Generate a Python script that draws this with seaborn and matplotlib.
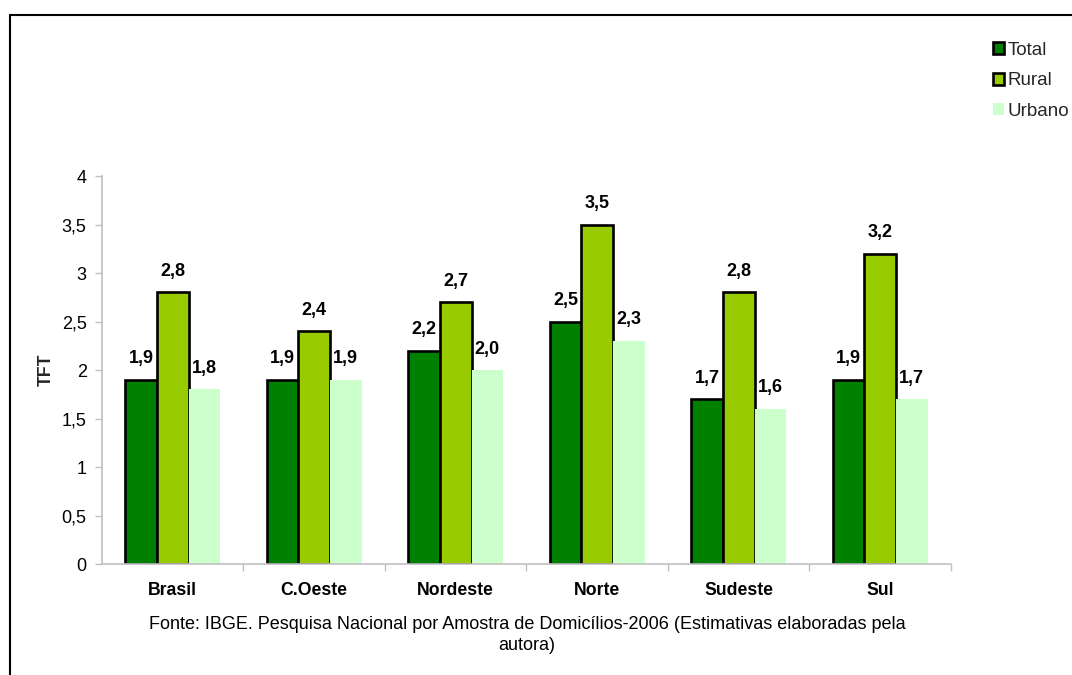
import matplotlib
matplotlib.use("Agg")
import matplotlib.pyplot as plt
from matplotlib.lines import Line2D
from matplotlib.patches import Patch
import seaborn as sns
import pandas as pd

regioes = ["Brasil", "C.Oeste", "Nordeste", "Norte", "Sudeste", "Sul"]
total = [1.9, 1.9, 2.2, 2.5, 1.7, 1.9]
rural = [2.8, 2.4, 2.7, 3.5, 2.8, 3.2]
urbano = [1.8, 1.9, 2.0, 2.3, 1.6, 1.7]
series = ["Total", "Rural", "Urbano"]
yticks = [0, 0.5, 1, 1.5, 2, 2.5, 3, 3.5, 4]
fonte = ("Fonte: IBGE. Pesquisa Nacional por Amostra de Domicílios-2006 (Estimativas elaboradas pela\n"
         "autora)")

cores = {"Total": "#008000", "Rural": "#99CC00", "Urbano": "#CCFFCC"}
bordas = {"Total": "black", "Rural": "black", "Urbano": "none"}

df = pd.DataFrame({
    "Região": regioes * 3,
    "Série": sum([[s] * len(regioes) for s in series], []),
    "TFT": total + rural + urbano,
})

sns.set_theme(style="white")
plt.rcParams["font.family"] = ["Liberation Sans", "DejaVu Sans"]

fig = plt.figure(figsize=(10.72, 6.75), dpi=100)
ax = fig.add_axes([0.0951, 0.1644, 0.792, 0.5748])

sns.barplot(data=df, x="Região", y="TFT", hue="Série", hue_order=series,
            palette=cores, width=0.67, saturation=1, ax=ax, legend=False,
            errorbar=None)

for cont, s in zip(ax.containers, series):
    for bar in cont:
        bar.set_edgecolor(bordas[s])
        bar.set_linewidth(1.9 if bordas[s] != "none" else 0)
    ax.bar_label(cont, labels=[f"{v:.1f}".replace(".", ",") for v in cont.datavalues],
                 padding=9, fontsize=13, fontweight="bold", color="black")

ax.set_ylim(0, 4)
ax.set_xlim(-0.5, len(regioes) - 0.5)
ax.set_yticks(yticks)
ax.set_yticklabels([f"{t:g}".replace(".", ",") for t in yticks], fontsize=13, color="black")
ax.set_xticks(range(len(regioes)))
ax.set_xticklabels(regioes, fontsize=12.7, fontweight="bold", color="black")
ax.set_xticks([i + 0.5 for i in range(len(regioes))], minor=True)
ax.tick_params(axis="x", which="major", length=0, pad=13)
ax.tick_params(axis="x", which="minor", length=5, width=1, color="#C0C0C0", direction="out", bottom=True)
ax.tick_params(axis="y", length=5, width=1, color="#C0C0C0", direction="out", left=True, pad=6)
ax.set_xlabel("")
ax.set_ylabel("TFT", fontsize=12.7, fontweight="bold", labelpad=5)

for side in ["top", "right"]:
    ax.spines[side].set_visible(False)
for side in ["left", "bottom"]:
    ax.spines[side].set_color("#C0C0C0")
    ax.spines[side].set_linewidth(1.2)

handles = [Patch(facecolor=cores[s], edgecolor=bordas[s], linewidth=1.9 if bordas[s] != "none" else 0,
                 label=s) for s in series]
fig.legend(handles=handles, loc="upper left", bbox_to_anchor=(0.9174, 0.952),
           frameon=False, fontsize=13.5, handlelength=0.6, handleheight=0.6,
           handletextpad=0.2, labelspacing=0.72, borderpad=0)

fig.text(0.4916, 0.0593, fonte, ha="center", va="center", fontsize=13,
         linespacing=1.33, color="black")

# frame lines around the chart area
fig.add_artist(Line2D([10 / 1072, 10 / 1072], [0, 1 - 15 / 675], color="black", linewidth=1.5,
                      transform=fig.transFigure))
fig.add_artist(Line2D([10 / 1072, 1], [1 - 15 / 675, 1 - 15 / 675], color="black", linewidth=1.5,
                      transform=fig.transFigure))

fig.savefig("out.png", dpi=100)
